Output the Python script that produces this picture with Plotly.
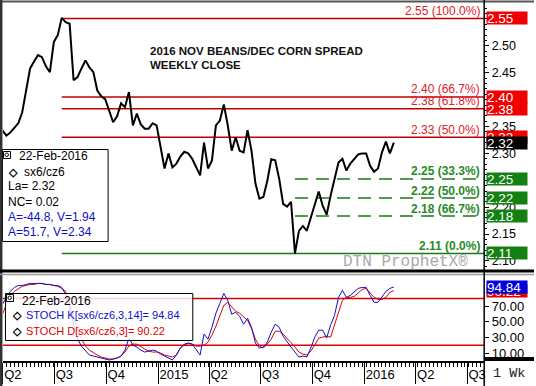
import plotly.graph_objects as go
import pandas as pd

W, H = 536, 386

# ---------------- data ----------------
dates = pd.date_range("2014-03-31", periods=100, freq="7D")

price = [
    2.343, 2.333, 2.339, 2.348, 2.356, 2.376, 2.415, 2.458, 2.471, 2.483,
    2.479, 2.462, 2.451, 2.507, 2.520, 2.552, 2.544, 2.541, 2.436, 2.442,
    2.458, 2.473, 2.460, 2.451, 2.417, 2.406, 2.401, 2.378, 2.358, 2.369,
    2.393, 2.386, 2.414, 2.352, 2.374, 2.354, 2.346, 2.346, 2.356, 2.352,
    2.315, 2.272, 2.300, 2.274, 2.281, 2.294, 2.303, 2.300, 2.290, 2.274,
    2.259, 2.320, 2.272, 2.287, 2.352, 2.361, 2.391, 2.352, 2.305, 2.330,
    2.305, 2.302, 2.343, 2.305, 2.244, 2.216, 2.219, 2.249, 2.289, 2.287,
    2.253, 2.206, 2.201, 2.210, 2.114, 2.156, 2.165, 2.156, 2.180, 2.206,
    2.229, 2.203, 2.186, 2.221, 2.251, 2.283, 2.290, 2.268, 2.281, 2.289,
    2.298, 2.300, 2.300, 2.277, 2.266, 2.272, 2.302, 2.322, 2.300, 2.320,
]

stoch_k = [
    72.6, 80.2, 89.2, 94.3, 96.8, 96.8, 98.1, 99.4, 99.4, 99.4,
    99.4, 98.1, 98.1, 96.8, 96.8, 94.3, 85.3, 67.5, 45.8, 27.9,
    18.9, 12.6, 7.4, 6.2, 4.9, 3.6, 2.3, 1.1, 2.3, 3.6,
    6.2, 13.8, 29.2, 20.2, 17.7, 13.8, 11.3, 12.6, 13.8, 12.6,
    8.7, 6.2, 3.6, 1.1, 7.4, 16.4, 21.5, 22.8, 21.5, 13.8,
    7.4, 34.3, 27.9, 43.2, 61.1, 73.9, 86.6, 77.7, 59.8, 62.4,
    57.2, 47.0, 54.7, 43.2, 22.8, 16.4, 17.7, 24.0, 36.8, 47.0,
    43.2, 31.7, 24.0, 17.7, 11.3, 4.9, 6.2, 4.9, 16.4, 30.4,
    39.4, 39.4, 29.2, 45.8, 58.5, 81.5, 90.5, 81.5, 84.1, 89.2,
    93.0, 94.3, 94.3, 84.1, 75.1, 75.1, 81.5, 89.2, 93.0, 94.84,
]

stoch_d = [
    59.8, 72.6, 84.1, 89.2, 93.0, 95.6, 96.8, 98.1, 98.1, 99.4,
    99.4, 98.1, 98.1, 96.8, 95.6, 93.0, 89.2, 73.9, 57.2, 40.6,
    27.9, 18.9, 13.8, 10.0, 7.4, 4.9, 3.6, 2.3, 2.3, 3.6,
    6.2, 11.3, 18.9, 21.5, 21.5, 17.7, 15.1, 12.6, 11.3, 11.3,
    10.0, 7.4, 6.2, 4.9, 7.4, 16.4, 20.2, 22.8, 21.5, 18.9,
    18.9, 20.2, 24.0, 33.0, 44.5, 58.5, 71.3, 75.1, 68.7, 63.6,
    61.1, 57.2, 52.1, 41.9, 27.9, 18.9, 16.4, 21.5, 27.9, 38.1,
    38.1, 34.3, 29.2, 24.0, 17.7, 11.3, 8.7, 7.4, 12.6, 20.2,
    29.2, 30.4, 31.7, 30.4, 45.8, 63.6, 77.7, 81.5, 81.5, 82.8,
    87.9, 91.7, 93.0, 86.6, 81.5, 79.0, 79.0, 81.5, 87.9, 90.22,
]

red_levels = [2.551, 2.405, 2.383, 2.330]
red_labels = ["2.55 (100.0%)", "2.40 (66.7%)", "2.38 (61.8%)", "2.33 (50.0%)"]
red_boxes = ["2.55", "2.40", "2.38", "2.33"]

green_levels = [2.2525, 2.217, 2.1834, 2.114]
green_labels = ["2.25 (33.3%)", "2.22 (50.0%)", "2.18 (66.7%)", "2.11 (0.0%)"]
green_boxes = ["2.25", "2.22", "2.18", "2.11"]
green_dashed = [True, True, True, False]

stoch_bands = [80, 20]

last_price = 2.32
last_price_text = "2.32"
last_k_text = "94.84"
last_d_text = "90.22"

quarter_ticks = ["2014-04-01", "2014-07-01", "2014-10-01", "2015-01-01", "2015-04-01",
                 "2015-07-01", "2015-10-01", "2016-01-01", "2016-04-01", "2016-07-01"]
quarter_text = ["Q2", "Q3", "Q4", "2015", "Q2", "Q3", "Q4", "2016", "Q2", "Q3"]
stoch_ticks = [10, 30, 50, 70]
stoch_ticktext = ["10.00", "30.00", "50.00", "70.00"]

x_range = ["2014-04-01", "2016-07-31"]
price_range = [2.085, 2.5797]
stoch_range = [-0.2, 109.6]

# ---------------- helpers ----------------
def fx(p):
    return p / W


def fy(p):
    return 1 - p / H


FONT = "Liberation Sans, Arial, sans-serif"
MONO = "Liberation Mono, Courier New, monospace"
RED_LINE = "#c00000"
RED_TXT = "#e0202a"
RED_BOX = "#f00000"
GREEN_LINE = "#1a7a1a"
GREEN_TXT = "#2a8a2a"
GREEN_BOX = "#128012"
BLUE = "#1010c8"

fig = go.Figure()

hi_date = dates[price.index(max(price))]
lo_date = dates[price.index(min(price))]

# level lines
for lv in red_levels:
    fig.add_trace(go.Scatter(x=[hi_date, x_range[1]], y=[lv, lv], mode="lines",
                             line=dict(color=RED_LINE, width=1.5), xaxis="x", yaxis="y",
                             hoverinfo="skip"))
for lv, dsh in zip(green_levels, green_dashed):
    start = lo_date if dsh else hi_date
    fig.add_trace(go.Scatter(x=[start, x_range[1]], y=[lv, lv], mode="lines",
                             line=dict(color=GREEN_LINE, width=1.5,
                                       dash="13px,8px" if dsh else "solid"),
                             xaxis="x", yaxis="y", hoverinfo="skip"))

# price
fig.add_trace(go.Scatter(x=dates, y=price, mode="lines",
                         line=dict(color="black", width=2), xaxis="x", yaxis="y"))

# stoch bands
for b in stoch_bands:
    fig.add_trace(go.Scatter(x=x_range, y=[b, b], mode="lines",
                             line=dict(color="#e00000", width=1.5), xaxis="x2", yaxis="y2",
                             hoverinfo="skip"))
fig.add_trace(go.Scatter(x=dates, y=stoch_d, mode="lines",
                         line=dict(color="#e00000", width=1), xaxis="x2", yaxis="y2"))
fig.add_trace(go.Scatter(x=dates, y=stoch_k, mode="lines",
                         line=dict(color=BLUE, width=1), xaxis="x2", yaxis="y2"))

annotations = []
shapes = []

# title
annotations.append(dict(text="<b>2016 NOV BEANS/DEC CORN SPREAD</b>", xref="paper", yref="paper",
                        x=fx(149), y=fy(51), xanchor="left", yanchor="middle", showarrow=False,
                        font=dict(family=FONT, size=11.5, color="#111")))
annotations.append(dict(text="<b>WEEKLY CLOSE</b>", xref="paper", yref="paper",
                        x=fx(149), y=fy(65.5), xanchor="left", yanchor="middle", showarrow=False,
                        font=dict(family=FONT, size=11.5, color="#111")))

# level labels + axis boxes
for lv, lab, bx in zip(red_levels, red_labels, red_boxes):
    annotations.append(dict(text=lab, xref="paper", yref="y", x=fx(483.5), y=lv,
                            xanchor="right", yanchor="middle", yshift=7.5, showarrow=False,
                            font=dict(family=FONT, size=12, color=RED_TXT)))
for lv, lab in zip(green_levels, green_labels):
    annotations.append(dict(text="<b>" + lab + "</b>", xref="paper", yref="y", x=fx(483.5), y=lv,
                            xanchor="right", yanchor="middle", yshift=7.5, showarrow=False,
                            font=dict(family=FONT, size=12, color=GREEN_TXT)))


def axis_box(yref, val, txt, bg):
    return dict(text=txt, xref="paper", yref=yref, x=fx(488), y=val, xanchor="left",
                yanchor="middle", showarrow=False, bgcolor=bg, width=40, height=12,
                borderpad=0, align="left",
                font=dict(family=FONT, size=13.5, color="white"))


for lv, bx in zip(red_levels, red_boxes):
    annotations.append(axis_box("y", lv, bx, RED_BOX))
annotations.append(axis_box("y", last_price, last_price_text, "black"))
for lv, bx in zip(green_levels, green_boxes):
    annotations.append(axis_box("y", lv, bx, GREEN_BOX))
annotations.append(axis_box("y2", stoch_d[-1], last_d_text, "#e00000"))
annotations.append(axis_box("y2", stoch_k[-1], last_k_text, "#0000e0"))

# watermark
annotations.append(dict(text="DTN ProphetX®", xref="paper", yref="paper", x=fx(407), y=fy(262),
                        xanchor="center", yanchor="middle", showarrow=False,
                        font=dict(family=MONO, size=16, color="#a8a8a8")))
# 1 Wk
annotations.append(dict(text="1 Wk", xref="paper", yref="paper", x=fx(511), y=fy(373),
                        xanchor="center", yanchor="middle", showarrow=False,
                        font=dict(family=MONO, size=13.5, color="#222")))

# ---- top info box ----
shapes.append(dict(type="rect", xref="paper", yref="paper", x0=fx(2.5), x1=fx(108.5),
                   y0=fy(241.5), y1=fy(149.5), fillcolor="white",
                   line=dict(color="black", width=1), layer="above"))


def icon(cx, cy):
    return [dict(type="rect", xref="paper", yref="paper", x0=fx(cx - 3.5), x1=fx(cx + 3.5),
                 y0=fy(cy + 3.5), y1=fy(cy - 3.5), line=dict(color="black", width=1),
                 fillcolor="white", layer="above"),
            dict(type="circle", xref="paper", yref="paper", x0=fx(cx - 2), x1=fx(cx + 1.5),
                 y0=fy(cy + 1.5), y1=fy(cy - 2), line=dict(color="black", width=1),
                 layer="above")]


shapes += icon(7, 155)


def txt(s, x, y, color="black", size=12, bold=False):
    return dict(text=("<b>%s</b>" % s) if bold else s, xref="paper", yref="paper", x=fx(x),
                y=fy(y), xanchor="left", yanchor="middle", showarrow=False,
                font=dict(family=FONT, size=size, color=color))


annotations += [
    txt("22-Feb-2016", 17.5, 156),
    txt("◇", 6.5, 171.5, bold=True, size=11),
    txt("sx6/cz6", 22, 171.5),
    txt("La= 2.32", 6.5, 186.5),
    txt("NC= 0.02", 6.5, 201.5),
    txt("A=-44.8, V=1.94", 6.5, 216.5, color=BLUE),
    txt("A=51.7, V=2.34", 6.5, 231.5, color=BLUE),
]

# ---- lower info box ----
shapes.append(dict(type="rect", xref="paper", yref="paper", x0=fx(5.5), x1=fx(193.5),
                   y0=fy(340.5), y1=fy(293.5), fillcolor="rgba(255,255,255,0.82)",
                   line=dict(color="black", width=1), layer="above"))
shapes += icon(10, 298)
annotations += [
    txt("22-Feb-2016", 20, 301),
    txt("◇", 10, 315, bold=True, size=11),
    txt("STOCH K[sx6/cz6,3,14]= 94.84", 24.5, 315, color=BLUE, size=11),
    txt("◇", 10, 331, bold=True, size=11),
    txt("STOCH D[sx6/cz6,3]= 90.22", 24.5, 331, color="#e00000", size=11),
]

# frame lines
def hline(ypx, x0, x1, color="black", width=1):
    return dict(type="line", xref="paper", yref="paper", x0=fx(x0), x1=fx(x1), y0=fy(ypx),
                y1=fy(ypx), line=dict(color=color, width=width), layer="above")


def vline(xpx, y0, y1, color="black", width=1):
    return dict(type="line", xref="paper", yref="paper", x0=fx(xpx), x1=fx(xpx), y0=fy(y0),
                y1=fy(y1), line=dict(color=color, width=width), layer="above")


shapes += [
    hline(1.5, 0, W, "#555", 2),
    vline(1.2, 0, H, "#333", 2.5),
    hline(271, 0, W, "black", 3),
    hline(274.5, 0, W, "#999", 1.5),
    hline(359, 486, W, "black", 4),
    vline(486, 0, H, "black", 1.5),
]

fig.update_layout(
    width=W, height=H, autosize=False,
    margin=dict(l=0, r=0, t=0, b=0),
    paper_bgcolor="white", plot_bgcolor="white",
    showlegend=False,
    xaxis=dict(domain=[fx(3), fx(486)], anchor="y", range=x_range, type="date",
               showticklabels=False, showgrid=False, zeroline=False, ticks="",
               showline=False),
    yaxis=dict(domain=[fy(269), fy(3)], anchor="x", range=price_range, side="right",
               tickmode="linear", tick0=2.10, dtick=0.05, tickformat=".2f",
               ticks="outside", ticklen=4, tickcolor="black",
               tickfont=dict(family=FONT, size=12.5, color="black"),
               showgrid=False, zeroline=False, showline=False,
               minor=dict(tickmode="linear", tick0=2.10, dtick=0.01, ticks="outside",
                          ticklen=2, tickcolor="black")),
    xaxis2=dict(domain=[fx(3), fx(486)], anchor="y2", matches="x", range=x_range, type="date",
                tickmode="array", tickvals=quarter_ticks, ticktext=quarter_text,
                ticks="outside", ticklen=21, tickcolor="black", tickwidth=1,
                ticklabelposition="outside right", ticklabelstandoff=1,
                tickfont=dict(family=FONT, size=13, color="black"),
                showgrid=False, zeroline=False, showline=True, linecolor="black", linewidth=1.5,
                minor=dict(tickmode="linear", tick0="2014-03-31", dtick=7 * 86400000,
                           ticks="outside", ticklen=4, tickcolor="black")),
    yaxis2=dict(domain=[fy(361), fy(275.5)], anchor="x2", range=stoch_range, side="right",
                tickmode="array", tickvals=stoch_ticks, ticktext=stoch_ticktext,
                ticks="outside", ticklen=4, tickcolor="black",
                tickfont=dict(family=FONT, size=13, color="black"),
                showgrid=False, zeroline=False, showline=False),
    annotations=annotations,
    shapes=shapes,
)

fig.write_html("out.html", config={"displayModeBar": False},
               post_script="document.body.style.margin='0';")
